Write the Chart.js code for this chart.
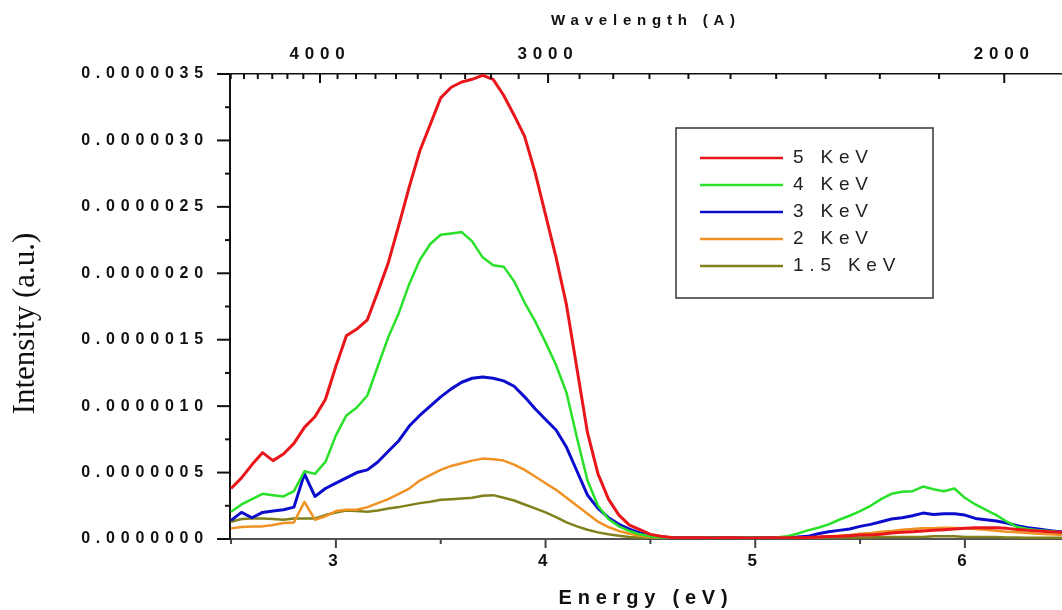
<!DOCTYPE html>
<html>
<head>
<meta charset="utf-8">
<script src="https://cdn.jsdelivr.net/npm/chart.js@4.4.1/dist/chart.umd.min.js"></script>
<style>
  html, body { margin: 0; padding: 0; background: #fff; }
  #wrap { width: 1062px; height: 610px; }
</style>
</head>
<body>
<div id="wrap"><canvas id="spectrum" width="1062" height="610"></canvas></div>
<script>
// photon energy (eV)
const energy = [
  2.50, 2.55, 2.60, 2.65, 2.70, 2.75, 2.80, 2.85, 2.90, 2.95,
  3.00, 3.05, 3.10, 3.15, 3.20, 3.25, 3.30, 3.35, 3.40, 3.45,
  3.50, 3.55, 3.60, 3.65, 3.70, 3.75, 3.80, 3.85, 3.90, 3.95,
  4.00, 4.05, 4.10, 4.15, 4.20, 4.25, 4.30, 4.35, 4.40, 4.45,
  4.50, 4.55, 4.60, 4.65, 4.70, 4.75, 4.80, 4.85, 4.90, 4.95,
  5.00, 5.05, 5.10, 5.15, 5.20, 5.25, 5.30, 5.35, 5.40, 5.45,
  5.50, 5.55, 5.60, 5.65, 5.70, 5.75, 5.80, 5.85, 5.90, 5.95,
  6.00, 6.05, 6.10, 6.15, 6.20, 6.25, 6.30, 6.35, 6.40, 6.45, 6.50
];

// intensities, in units of 1e-7 a.u.
const kev5 = [
  3.8, 4.6, 5.6, 6.5, 5.9, 6.4, 7.2, 8.4, 9.2, 10.5,
  13.0, 15.3, 15.8, 16.5, 18.6, 20.8, 23.6, 26.5, 29.2, 31.2,
  33.2, 34.0, 34.4, 34.6, 34.9, 34.6, 33.4, 31.9, 30.3, 27.6,
  24.4, 21.2, 17.6, 12.8, 8.0, 4.9, 3.0, 1.8, 1.05, 0.7,
  0.35, 0.2, 0.12, 0.1, 0.1, 0.1, 0.08, 0.1, 0.1, 0.08,
  0.08, 0.1, 0.1, 0.1, 0.1, 0.12, 0.15, 0.18, 0.2, 0.25,
  0.3, 0.3, 0.35, 0.45, 0.5, 0.55, 0.6, 0.65, 0.7, 0.75,
  0.8, 0.85, 0.85, 0.85, 0.8, 0.72, 0.65, 0.6, 0.55, 0.5, 0.5
];
const kev4 = [
  2.05, 2.6, 3.0, 3.4, 3.3, 3.2, 3.6, 5.1, 4.9, 5.8,
  7.8, 9.3, 9.9, 10.8, 13.0, 15.2, 17.0, 19.2, 21.0, 22.2,
  22.9, 23.0, 23.1, 22.4, 21.2, 20.6, 20.5, 19.4, 17.8, 16.4,
  14.8, 13.1, 11.0, 7.6, 4.4, 2.5, 1.5, 0.95, 0.6, 0.35,
  0.2, 0.12, 0.1, 0.1, 0.08, 0.1, 0.1, 0.08, 0.1, 0.1,
  0.1, 0.1, 0.12, 0.2, 0.4, 0.65, 0.85, 1.1, 1.45, 1.75,
  2.1, 2.5, 3.0, 3.4, 3.55, 3.6, 3.95, 3.75, 3.6, 3.8,
  3.1, 2.6, 2.2, 1.8, 1.3, 0.9, 0.75, 0.65, 0.6, 0.5, 0.45
];
const kev3 = [
  1.4, 2.0, 1.6, 2.0, 2.1, 2.2, 2.4, 4.9, 3.2, 3.8,
  4.2, 4.6, 5.0, 5.2, 5.8, 6.6, 7.4, 8.5, 9.3, 10.0,
  10.7, 11.3, 11.8, 12.1, 12.2, 12.1, 11.9, 11.5, 10.7, 9.8,
  9.0, 8.2, 6.9, 5.1, 3.3, 2.3, 1.6, 1.1, 0.75, 0.45,
  0.25, 0.15, 0.1, 0.1, 0.1, 0.08, 0.1, 0.1, 0.1, 0.08,
  0.1, 0.1, 0.1, 0.12, 0.15, 0.2, 0.4, 0.55, 0.65, 0.75,
  0.95, 1.1, 1.3, 1.5, 1.6, 1.75, 1.95, 1.85, 1.9, 1.9,
  1.8, 1.55, 1.45, 1.35, 1.2, 1.0, 0.85, 0.75, 0.65, 0.55, 0.5
];
const kev2 = [
  0.8, 0.9, 0.95, 0.95, 1.05, 1.2, 1.25, 2.8, 1.45, 1.7,
  2.1, 2.2, 2.2, 2.4, 2.7, 3.0, 3.4, 3.8, 4.4, 4.8,
  5.2, 5.5, 5.7, 5.9, 6.05, 6.0, 5.9, 5.6, 5.2, 4.7,
  4.2, 3.7, 3.1, 2.5, 1.9, 1.3, 0.9, 0.6, 0.4, 0.25,
  0.15, 0.1, 0.1, 0.1, 0.1, 0.1, 0.1, 0.1, 0.1, 0.1,
  0.1, 0.1, 0.1, 0.1, 0.1, 0.1, 0.15, 0.2, 0.25, 0.3,
  0.4, 0.45, 0.55, 0.6, 0.7, 0.75, 0.8, 0.8, 0.85, 0.82,
  0.8, 0.75, 0.7, 0.62, 0.55, 0.5, 0.45, 0.4, 0.35, 0.32, 0.3
];
const kev15 = [
  1.3, 1.5, 1.55, 1.55, 1.5, 1.45, 1.55, 1.55, 1.55, 1.8,
  2.0, 2.15, 2.1, 2.05, 2.15, 2.3, 2.4, 2.55, 2.7, 2.8,
  2.95, 3.0, 3.05, 3.1, 3.25, 3.3, 3.1, 2.9, 2.6, 2.3,
  2.0, 1.65, 1.25, 0.95, 0.7, 0.5, 0.35, 0.25, 0.15, 0.1,
  0.1, 0.1, 0.1, 0.1, 0.1, 0.1, 0.1, 0.1, 0.1, 0.1,
  0.1, 0.1, 0.1, 0.1, 0.1, 0.1, 0.1, 0.12, 0.12, 0.12,
  0.12, 0.12, 0.15, 0.15, 0.15, 0.15, 0.15, 0.2, 0.2, 0.2,
  0.15, 0.15, 0.15, 0.15, 0.12, 0.12, 0.1, 0.1, 0.1, 0.1, 0.1
];

const seriesLabels = ["5 KeV", "4 KeV", "3 KeV", "2 KeV", "1.5 KeV"];
const seriesValues = [kev5, kev4, kev3, kev2, kev15];
const seriesColors = ["rgb(232,22,26)", "rgb(40,225,40)", "rgb(12,12,205)", "rgb(240,145,35)", "rgb(128,128,28)"];
const seriesWidths = [3, 2.5, 3, 2.5, 2.5];

const energyTicks = [3, 4, 5, 6];
const wavelengthTicks = [4000, 3000, 2000];

// top axis calibration as drawn in the figure: E = K / lambda - SHIFT
const WL_K = 13053;
const WL_SHIFT = 0.339;
const energyAt = (wl) => WL_K / wl - WL_SHIFT;

const E_MIN = 2.495, E_MAX = 6.463;
const LETTER_SPACING = "5.8px";

const sans = "'Liberation Sans', Arial, sans-serif";
const tickFont = { family: sans, size: 17, weight: "bold" };

const line = (ctx, x1, y1, x2, y2) => {
    ctx.beginPath();
    ctx.moveTo(x1, y1);
    ctx.lineTo(x2, y2);
    ctx.stroke();
};

// spaced-out lettering like the original, ticks on all three axes, legend box, y title
const figureDecor = {
    id: "figureDecor",
    beforeUpdate(chart) { chart.ctx.letterSpacing = LETTER_SPACING; },
    beforeDraw(chart) { chart.ctx.letterSpacing = LETTER_SPACING; },
    afterDraw(chart) {
        const { ctx, chartArea: a, scales } = chart;
        ctx.save();

        // y ticks (outside, left)
        ctx.strokeStyle = "#111";
        ctx.lineWidth = 2;
        for (let v = 0; v <= 35; v += 2.5) {
            const y = scales.y.getPixelForValue(v);
            line(ctx, a.left - (v % 5 === 0 ? 13 : 5), y, a.left, y);
        }

        // bottom energy ticks (outside, below)
        ctx.strokeStyle = "#444";
        for (let e = 2.5; e <= E_MAX; e += 0.5) {
            const x = scales.x.getPixelForValue(e);
            const major = energyTicks.includes(e);
            line(ctx, x, a.bottom, x, a.bottom + (major ? 9 : 5));
        }

        // top wavelength ticks (inside, pointing down), minor every 100 A
        ctx.strokeStyle = "#111";
        for (let wl = 1900; wl <= 4600; wl += 100) {
            const x = scales.x2.getPixelForValue(energyAt(wl));
            if (x < a.left || x > a.right) continue;
            const major = wavelengthTicks.includes(wl);
            line(ctx, x, a.top, x, a.top + (major ? 9 : 5));
        }

        // legend
        const box = { x: 676, y: 128, w: 257, h: 170 };
        ctx.fillStyle = "#fff";
        ctx.fillRect(box.x, box.y, box.w, box.h);
        ctx.strokeStyle = "#333";
        ctx.lineWidth = 1.5;
        ctx.strokeRect(box.x, box.y, box.w, box.h);
        ctx.font = "19px " + sans;
        ctx.textAlign = "left";
        ctx.textBaseline = "middle";
        ctx.fillStyle = "#222";
        seriesLabels.forEach((label, i) => {
            const y = box.y + 30 + i * 27;
            ctx.strokeStyle = seriesColors[i];
            ctx.lineWidth = 2.5;
            line(ctx, box.x + 24, y, box.x + 107, y);
            ctx.fillText(label, box.x + 117, y);
        });

        // y axis title, plain serif, no letter spacing
        ctx.letterSpacing = "0px";
        ctx.translate(26, (a.top + a.bottom) / 2 + 17);
        ctx.rotate(-Math.PI / 2);
        ctx.font = "31px 'Liberation Serif', 'Times New Roman', serif";
        ctx.textAlign = "center";
        ctx.fillStyle = "#111";
        ctx.fillText("Intensity (a.u.)", 0, 0);

        ctx.restore();
        ctx.letterSpacing = LETTER_SPACING;
    }
};

new Chart(document.getElementById("spectrum"), {
    type: "line",
    data: {
        datasets: seriesLabels.map((label, i) => ({
            label: label,
            data: energy.map((e, j) => ({ x: e, y: seriesValues[i][j] })),
            borderColor: seriesColors[i],
            borderWidth: seriesWidths[i],
            borderJoinStyle: "round",
            pointRadius: 0,
            tension: 0,
            fill: false,
            xAxisID: "x",
            yAxisID: "y",
        })),
    },
    options: {
        responsive: false,
        animation: false,
        devicePixelRatio: 1,
        layout: { padding: 0 },
        plugins: {
            legend: { display: false },
            tooltip: { enabled: false },
        },
        scales: {
            x: {
                type: "linear",
                position: "bottom",
                min: E_MIN,
                max: E_MAX,
                afterFit: (s) => { s.height = 71; },
                afterBuildTicks: (s) => { s.ticks = energyTicks.map(v => ({ value: v })); },
                grid: { display: false, drawTicks: false },
                border: { display: true, color: "#555", width: 2 },
                ticks: {
                    includeBounds: false,
                    maxRotation: 0,
                    padding: 12,
                    color: "#111",
                    font: tickFont,
                    callback: (v) => String(v),
                },
                title: {
                    display: true,
                    text: "Energy (eV)",
                    color: "#111",
                    font: { family: sans, size: 20, weight: "bold" },
                    padding: { top: 0, bottom: 0 },
                },
            },
            x2: {
                type: "linear",
                position: "top",
                min: E_MIN,
                max: E_MAX,
                afterFit: (s) => { s.height = 74; },
                afterBuildTicks: (s) => { s.ticks = wavelengthTicks.map(w => ({ value: energyAt(w) })); },
                grid: { display: false, drawTicks: false },
                border: { display: true, color: "#111", width: 1.5 },
                ticks: {
                    includeBounds: false,
                    maxRotation: 0,
                    padding: 9,
                    color: "#111",
                    font: tickFont,
                    callback: (v, i) => String(wavelengthTicks[i]),
                },
                title: {
                    display: true,
                    text: "Wavelength (A)",
                    color: "#111",
                    font: { family: sans, size: 15, weight: "bold" },
                    padding: { top: 12, bottom: 0 },
                },
            },
            y: {
                type: "linear",
                position: "left",
                min: 0,
                max: 35,
                afterFit: (s) => { s.width = 230; },
                grid: { display: false, drawTicks: false },
                border: { display: true, color: "#111", width: 2 },
                ticks: {
                    stepSize: 5,
                    padding: 21,
                    color: "#111",
                    font: { family: sans, size: 16, weight: "bold" },
                    callback: (v) => (v * 1e-7).toFixed(7),
                },
            },
        },
    },
    plugins: [figureDecor],
});
</script>
</body>
</html>
